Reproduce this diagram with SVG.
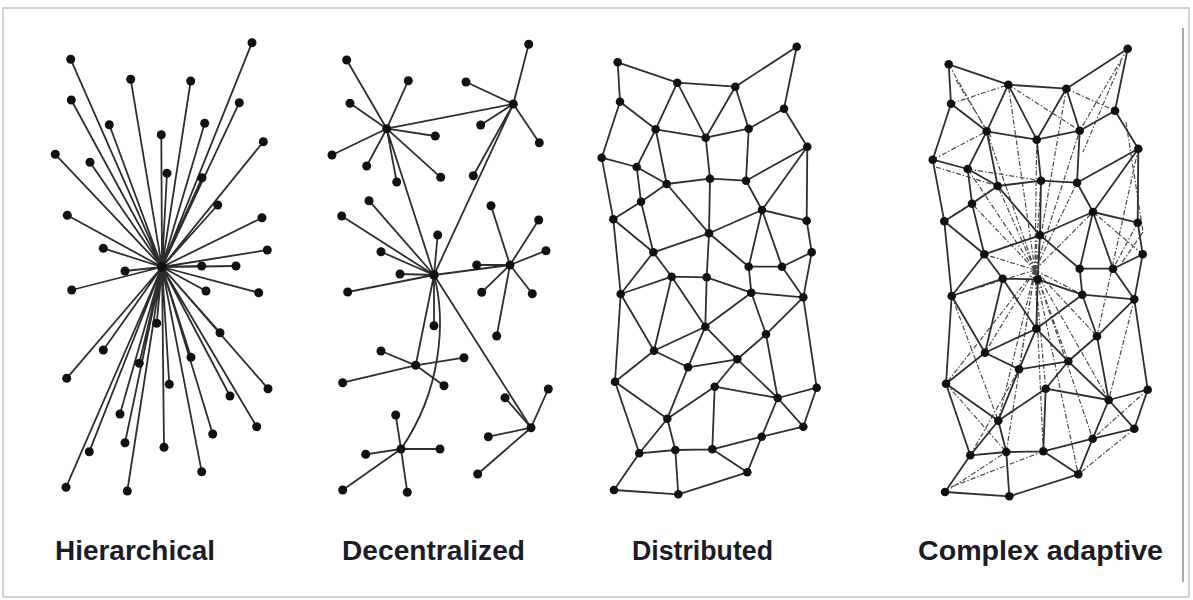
<svg xmlns="http://www.w3.org/2000/svg" xmlns:xlink="http://www.w3.org/1999/xlink" width="1193" height="600" viewBox="0 0 1193 600">
  <style>
    .link { fill: none; stroke: #2e2e2e; stroke-width: 1.8; stroke-linecap: round; }
    .dash { fill: none; stroke: #4a4a4a; stroke-width: 1.2; stroke-dasharray: 5 2 1.5 2; }
    .dot { fill: #111; }
    .label { font-family: "Liberation Sans", Arial, sans-serif; font-weight: bold; font-size: 28px; fill: #1c1c26; }
  </style>

  <!-- frame -->
  <rect x="3" y="8" width="1186" height="589" fill="#fff" stroke="#d2d2d2" stroke-width="2"/>
  <line x1="1183" y1="28" x2="1183" y2="582" stroke="#8a8a8a" stroke-width="1.5"/>

  <!-- Hierarchical: single centre, star topology -->
  <g id="hierarchical">
    <g id="hierarchical-links">
      <path class="link" d="M162 267L70.7 59.3M162 267L130.7 79.3M162 267L190.7 81M162 267L252 42.7M162 267L71.3 100M162 267L239.3 102.7M162 267L109.3 124.7M162 267L161.3 134.7M162 267L204.7 123.3M162 267L263.3 141.7M162 267L55.3 154.3M162 267L90 162.3M162 267L167 173.3M162 267L202 177.7M162 267L217.7 205M162 267L67.3 215.3M162 267L262 217.7M162 267L103.3 248.3M162 267L267.3 250M162 267L125 271M162 267L201.7 266M162 267L236 266M162 267L71.7 290M162 267L206 291M162 267L258.7 292.7M162 267L156.7 323.3M162 267L220 332.7M162 267L103.3 350M162 267L139.3 363.3M162 267L191 357.3M162 267L66.7 378.3M162 267L169.3 384.3M162 267L268 388.7M162 267L230 396M162 267L120 414M162 267L256.7 426.7M162 267L212.7 434M162 267L125 442.7M162 267L164 447.3M162 267L89.3 451.7M162 267L201.7 471.7M162 267L66 487.3M162 267L127.3 491"/>
    </g>
    <g id="hierarchical-nodes" class="dot">
      <circle id="h0" cx="162" cy="267" r="5"/>
      <circle id="h1" cx="70.7" cy="59.3" r="4.5"/><circle id="h2" cx="130.7" cy="79.3" r="4.5"/><circle id="h3" cx="190.7" cy="81" r="4.5"/><circle id="h4" cx="252" cy="42.7" r="4.5"/>
      <circle id="h5" cx="71.3" cy="100" r="4.5"/><circle id="h6" cx="239.3" cy="102.7" r="4.5"/><circle id="h7" cx="109.3" cy="124.7" r="4.5"/><circle id="h8" cx="161.3" cy="134.7" r="4.5"/>
      <circle id="h9" cx="204.7" cy="123.3" r="4.5"/><circle id="h10" cx="263.3" cy="141.7" r="4.5"/><circle id="h11" cx="55.3" cy="154.3" r="4.5"/><circle id="h12" cx="90" cy="162.3" r="4.5"/>
      <circle id="h13" cx="167" cy="173.3" r="4.5"/><circle id="h14" cx="202" cy="177.7" r="4.5"/><circle id="h15" cx="217.7" cy="205" r="4.5"/><circle id="h16" cx="67.3" cy="215.3" r="4.5"/>
      <circle id="h17" cx="262" cy="217.7" r="4.5"/><circle id="h18" cx="103.3" cy="248.3" r="4.5"/><circle id="h19" cx="267.3" cy="250" r="4.5"/><circle id="h20" cx="125" cy="271" r="4.5"/>
      <circle id="h21" cx="201.7" cy="266" r="4.5"/><circle id="h22" cx="236" cy="266" r="4.5"/><circle id="h23" cx="71.7" cy="290" r="4.5"/><circle id="h24" cx="206" cy="291" r="4.5"/>
      <circle id="h25" cx="258.7" cy="292.7" r="4.5"/><circle id="h26" cx="156.7" cy="323.3" r="4.5"/><circle id="h27" cx="220" cy="332.7" r="4.5"/><circle id="h28" cx="103.3" cy="350" r="4.5"/>
      <circle id="h29" cx="139.3" cy="363.3" r="4.5"/><circle id="h30" cx="191" cy="357.3" r="4.5"/><circle id="h31" cx="66.7" cy="378.3" r="4.5"/><circle id="h32" cx="169.3" cy="384.3" r="4.5"/>
      <circle id="h33" cx="268" cy="388.7" r="4.5"/><circle id="h34" cx="230" cy="396" r="4.5"/><circle id="h35" cx="120" cy="414" r="4.5"/><circle id="h36" cx="256.7" cy="426.7" r="4.5"/>
      <circle id="h37" cx="212.7" cy="434" r="4.5"/><circle id="h38" cx="125" cy="442.7" r="4.5"/><circle id="h39" cx="164" cy="447.3" r="4.5"/><circle id="h40" cx="89.3" cy="451.7" r="4.5"/>
      <circle id="h41" cx="201.7" cy="471.7" r="4.5"/><circle id="h42" cx="66" cy="487.3" r="4.5"/><circle id="h43" cx="127.3" cy="491" r="4.5"/>
    </g>
  </g>

  <!-- Decentralized: several hubs, each with its own leaves -->
  <g id="decentralized">
    <g id="decentralized-links">
      <path class="link" d="M386.7 128.7L346.7 60M386.7 128.7L408.3 80.7M386.7 128.7L350 103.3M386.7 128.7L435.3 136M386.7 128.7L332 155M386.7 128.7L366.7 166M386.7 128.7L396.7 182M386.7 128.7L440.7 177.3M386.7 128.7L513.3 104M386.7 128.7L434 275"/>
      <path class="link" d="M513.3 104L528.7 44.3M513.3 104L466 82M513.3 104L480.7 125M513.3 104L539.3 142.7M513.3 104L473.3 175.7M513.3 104L434 275"/>
      <path class="link" d="M434 275L341.7 216M434 275L369 200.7M434 275L437.7 235M434 275L381 251.7M434 275L400 274M434 275L347.7 292M434 275L434 325.7M434 275L510 265M434 275L415.7 365.3M434 275L531 427.7"/>
      <path class="link" d="M434 275C446 320 442 390 401 449"/>
      <path class="link" d="M510 265L491 205.7M510 265L538.7 220M510 265L546 250.7M510 265L476.7 265M510 265L481.7 292.3M510 265L532.3 293.7M510 265L496.7 336"/>
      <path class="link" d="M415.7 365.3L381 351M415.7 365.3L464 357.7M415.7 365.3L342.7 382.7M415.7 365.3L444 385.7"/>
      <path class="link" d="M401 449L395.7 415M401 449L365.7 454.3M401 449L440 449M401 449L342.7 490M401 449L407.3 492.3"/>
      <path class="link" d="M531 427.7L548.3 389M531 427.7L505 397.7M531 427.7L488.3 436.7M531 427.7L477.7 474"/>
    </g>
    <g id="decentralized-nodes" class="dot">
      <circle id="dA" cx="386.7" cy="128.7" r="4.5"/><circle id="dB" cx="513.3" cy="104" r="4.5"/><circle id="dC" cx="434" cy="275" r="4.8"/>
      <circle id="dD" cx="510" cy="265" r="4.5"/><circle id="dE" cx="415.7" cy="365.3" r="4.5"/><circle id="dF" cx="401" cy="449" r="4.5"/><circle id="dG" cx="531" cy="427.7" r="4.5"/>
      <circle id="da1" cx="346.7" cy="60" r="4.5"/><circle id="da2" cx="408.3" cy="80.7" r="4.5"/><circle id="da3" cx="350" cy="103.3" r="4.5"/><circle id="da4" cx="435.3" cy="136" r="4.5"/>
      <circle id="da5" cx="332" cy="155" r="4.5"/><circle id="da6" cx="366.7" cy="166" r="4.5"/><circle id="da7" cx="396.7" cy="182" r="4.5"/><circle id="da8" cx="440.7" cy="177.3" r="4.5"/>
      <circle id="db1" cx="528.7" cy="44.3" r="4.5"/><circle id="db2" cx="466" cy="82" r="4.5"/><circle id="db3" cx="480.7" cy="125" r="4.5"/><circle id="db4" cx="539.3" cy="142.7" r="4.5"/><circle id="db5" cx="473.3" cy="175.7" r="4.5"/>
      <circle id="dc1" cx="341.7" cy="216" r="4.5"/><circle id="dc2" cx="369" cy="200.7" r="4.5"/><circle id="dc3" cx="437.7" cy="235" r="4.5"/><circle id="dc4" cx="381" cy="251.7" r="4.5"/>
      <circle id="dc5" cx="400" cy="274" r="4.5"/><circle id="dc6" cx="347.7" cy="292" r="4.5"/><circle id="dc7" cx="434" cy="325.7" r="4.5"/>
      <circle id="dd1" cx="491" cy="205.7" r="4.5"/><circle id="dd2" cx="538.7" cy="220" r="4.5"/><circle id="dd3" cx="546" cy="250.7" r="4.5"/><circle id="dd4" cx="476.7" cy="265" r="4.5"/>
      <circle id="dd5" cx="481.7" cy="292.3" r="4.5"/><circle id="dd6" cx="532.3" cy="293.7" r="4.5"/><circle id="dd7" cx="496.7" cy="336" r="4.5"/>
      <circle id="de1" cx="381" cy="351" r="4.5"/><circle id="de2" cx="464" cy="357.7" r="4.5"/><circle id="de3" cx="342.7" cy="382.7" r="4.5"/><circle id="de4" cx="444" cy="385.7" r="4.5"/>
      <circle id="df1" cx="395.7" cy="415" r="4.5"/><circle id="df2" cx="365.7" cy="454.3" r="4.5"/><circle id="df3" cx="440" cy="449" r="4.5"/><circle id="df4" cx="342.7" cy="490" r="4.5"/><circle id="df5" cx="407.3" cy="492.3" r="4.5"/>
      <circle id="dg1" cx="548.3" cy="389" r="4.5"/><circle id="dg2" cx="505" cy="397.7" r="4.5"/><circle id="dg3" cx="488.3" cy="436.7" r="4.5"/><circle id="dg4" cx="477.7" cy="474" r="4.5"/>
    </g>
  </g>

  <!-- Distributed: mesh -->
  <g id="distributed">
    <g id="distributed-links">
      <path class="link" d="M617.7 62.3L677.3 82.7M617.7 62.3L620 101.7M796.7 46.7L735.3 86.7M796.7 46.7L784 108.7M677.3 82.7L735.3 86.7M677.3 82.7L655.7 129.3M677.3 82.7L705.7 137.7M735.3 86.7L705.7 137.7M735.3 86.7L748.7 128.7M620 101.7L655.7 129.3M620 101.7L601.7 157.7M784 108.7L748.7 128.7M784 108.7L807.3 146.7M655.7 129.3L705.7 137.7M655.7 129.3L636.7 167M655.7 129.3L666.7 184M705.7 137.7L748.7 128.7M705.7 137.7L710 178.7M748.7 128.7L746 180.7M807.3 146.7L746 180.7M807.3 146.7L762 210M807.3 146.7L806.7 220.7M601.7 157.7L636.7 167M601.7 157.7L613.3 219.3M636.7 167L666.7 184M636.7 167L641 201.7M666.7 184L710 178.7M666.7 184L641 201.7M666.7 184L709 233.3M710 178.7L746 180.7M710 178.7L709 233.3M746 180.7L762 210M641 201.7L613.3 219.3M641 201.7L653.3 252.3M762 210L806.7 220.7M762 210L709 233.3M762 210L748.7 266.7M762 210L782 266.7M613.3 219.3L653.3 252.3M613.3 219.3L620.7 294M806.7 220.7L811.7 252.3M709 233.3L653.3 252.3M709 233.3L748.7 266.7M709 233.3L706.7 277.3M653.3 252.3L671.7 276.7M653.3 252.3L620.7 294M811.7 252.3L782 266.7M811.7 252.3L803.3 297.3M748.7 266.7L782 266.7M748.7 266.7L751.3 292.7M782 266.7L803.3 297.3"/>
      <path class="link" d="M671.7 276.7L706.7 277.3M671.7 276.7L620.7 294M671.7 276.7L705.3 326.7M671.7 276.7L654 350.7M706.7 277.3L705.3 326.7M706.7 277.3L751.3 292.7M620.7 294L654 350.7M620.7 294L615 381.7M751.3 292.7L803.3 297.3M751.3 292.7L705.3 326.7M751.3 292.7L766 334.3M803.3 297.3L766 334.3M803.3 297.3L816.7 387.7M705.3 326.7L654 350.7M705.3 326.7L737.3 359.3M705.3 326.7L688 367.3M766 334.3L737.3 359.3M766 334.3L777.7 398M654 350.7L688 367.3M654 350.7L615 381.7M737.3 359.3L688 367.3M737.3 359.3L714.7 386.7M737.3 359.3L777.7 398M688 367.3L667.3 418.7M615 381.7L667.3 418.7M615 381.7L639.3 453.3M714.7 386.7L777.7 398M714.7 386.7L667.3 418.7M714.7 386.7L712.3 449.3M816.7 387.7L777.7 398M816.7 387.7L803.3 426.7M777.7 398L803.3 426.7M777.7 398L761.7 436.7M667.3 418.7L639.3 453.3M667.3 418.7L675.3 450M803.3 426.7L761.7 436.7M761.7 436.7L712.3 449.3M761.7 436.7L747.3 472.3M639.3 453.3L675.3 450M639.3 453.3L614 490M675.3 450L712.3 449.3M675.3 450L678.3 494.3M712.3 449.3L747.3 472.3M747.3 472.3L678.3 494.3M614 490L678.3 494.3"/>
    </g>
    <g id="distributed-nodes" class="dot">
      <circle id="n1" cx="617.7" cy="62.3" r="4.3"/><circle id="n2" cx="796.7" cy="46.7" r="4.3"/><circle id="n3" cx="677.3" cy="82.7" r="4.3"/><circle id="n4" cx="735.3" cy="86.7" r="4.3"/>
      <circle id="n5" cx="620" cy="101.7" r="4.3"/><circle id="n6" cx="784" cy="108.7" r="4.3"/><circle id="n7" cx="655.7" cy="129.3" r="4.3"/><circle id="n8" cx="705.7" cy="137.7" r="4.3"/>
      <circle id="n9" cx="748.7" cy="128.7" r="4.3"/><circle id="n10" cx="807.3" cy="146.7" r="4.3"/><circle id="n11" cx="601.7" cy="157.7" r="4.3"/><circle id="n12" cx="636.7" cy="167" r="4.3"/>
      <circle id="n13" cx="666.7" cy="184" r="4.3"/><circle id="n14" cx="710" cy="178.7" r="4.3"/><circle id="n15" cx="746" cy="180.7" r="4.3"/><circle id="n16" cx="641" cy="201.7" r="4.3"/>
      <circle id="n17" cx="762" cy="210" r="4.3"/><circle id="n18" cx="613.3" cy="219.3" r="4.3"/><circle id="n19" cx="806.7" cy="220.7" r="4.3"/><circle id="n20" cx="709" cy="233.3" r="4.3"/>
      <circle id="n21" cx="653.3" cy="252.3" r="4.3"/><circle id="n22" cx="811.7" cy="252.3" r="4.3"/><circle id="n23" cx="748.7" cy="266.7" r="4.3"/><circle id="n24" cx="782" cy="266.7" r="4.3"/>
      <circle id="n25" cx="671.7" cy="276.7" r="4.3"/><circle id="n26" cx="706.7" cy="277.3" r="4.3"/><circle id="n27" cx="620.7" cy="294" r="4.3"/><circle id="n28" cx="751.3" cy="292.7" r="4.3"/>
      <circle id="n29" cx="803.3" cy="297.3" r="4.3"/><circle id="n30" cx="705.3" cy="326.7" r="4.3"/><circle id="n31" cx="766" cy="334.3" r="4.3"/><circle id="n32" cx="654" cy="350.7" r="4.3"/>
      <circle id="n33" cx="737.3" cy="359.3" r="4.3"/><circle id="n34" cx="688" cy="367.3" r="4.3"/><circle id="n35" cx="615" cy="381.7" r="4.3"/><circle id="n36" cx="714.7" cy="386.7" r="4.3"/>
      <circle id="n37" cx="816.7" cy="387.7" r="4.3"/><circle id="n38" cx="777.7" cy="398" r="4.3"/><circle id="n39" cx="667.3" cy="418.7" r="4.3"/><circle id="n40" cx="803.3" cy="426.7" r="4.3"/>
      <circle id="n41" cx="761.7" cy="436.7" r="4.3"/><circle id="n42" cx="639.3" cy="453.3" r="4.3"/><circle id="n43" cx="675.3" cy="450" r="4.3"/><circle id="n44" cx="712.3" cy="449.3" r="4.3"/>
      <circle id="n45" cx="747.3" cy="472.3" r="4.3"/><circle id="n46" cx="614" cy="490" r="4.3"/><circle id="n47" cx="678.3" cy="494.3" r="4.3"/>
    </g>
  </g>

  <!-- Complex adaptive: the same mesh plus transient dashed ties -->
  <g id="complex-adaptive">
    <g id="complex-links" transform="translate(331 2)">
      <g class="dash">
        <path d="M704 268L655.7 129.3M704 268L636.7 167M704 268L666.7 184M704 268L641 201.7M704 268L677.3 82.7M704 268L705.7 137.7M704 268L710 178.7M704 268L735.3 86.7M704 268L748.7 128.7M704 268L746 180.7M704 268L762 210M704 268L766 334.3M704 268L737.3 359.3M704 268L777.7 398M704 268L714.7 386.7M704 268L688 367.3M704 268L654 350.7M704 268L667.3 418.7M704 268L712.3 449.3M704 268L761.7 436.7M704 268L675.3 450M704 268L747.3 472.3M704 268L620.7 294M704 268L615 381.7M704 268L751.3 292.7M704 268L653.3 252.3"/>
        <path d="M617.7 62.3L655.7 129.3M625 78L660 135M735.3 86.7L784 108.7M796.7 46.7L748.7 128.7M790 60L752 150M601.7 157.7L655.7 129.3M605 165L666.7 184M636.7 167L710 178.7M620 101.7L677.3 82.7M677.3 82.7L748.7 128.7M806.7 220.7L782 266.7M811.7 252.3L762 210M812 230L790 262M803.3 426.7L747.3 472.3M816.7 387.7L761.7 436.7M803.3 297.3L777.7 398M620.7 294L667.3 418.7M615 381.7L675.3 450M614 490L675.3 450M620 485L712.3 449.3M639.3 453.3L688 367.3M613.3 219.3L666.7 184M807.3 146.7L766 334.3M795 120L812 230"/>
      </g>
      <use href="#distributed-links"/>
    </g>
    <use id="complex-nodes" href="#distributed-nodes" transform="translate(331 2)"/>
  </g>

  <!-- captions -->
  <g id="captions">
    <text class="label" x="55" y="560" textLength="160" lengthAdjust="spacingAndGlyphs">Hierarchical</text>
    <text class="label" x="342" y="560" textLength="183" lengthAdjust="spacingAndGlyphs">Decentralized</text>
    <text class="label" x="632" y="560" textLength="141" lengthAdjust="spacingAndGlyphs">Distributed</text>
    <text class="label" x="918" y="560" textLength="245" lengthAdjust="spacingAndGlyphs">Complex adaptive</text>
  </g>
</svg>
